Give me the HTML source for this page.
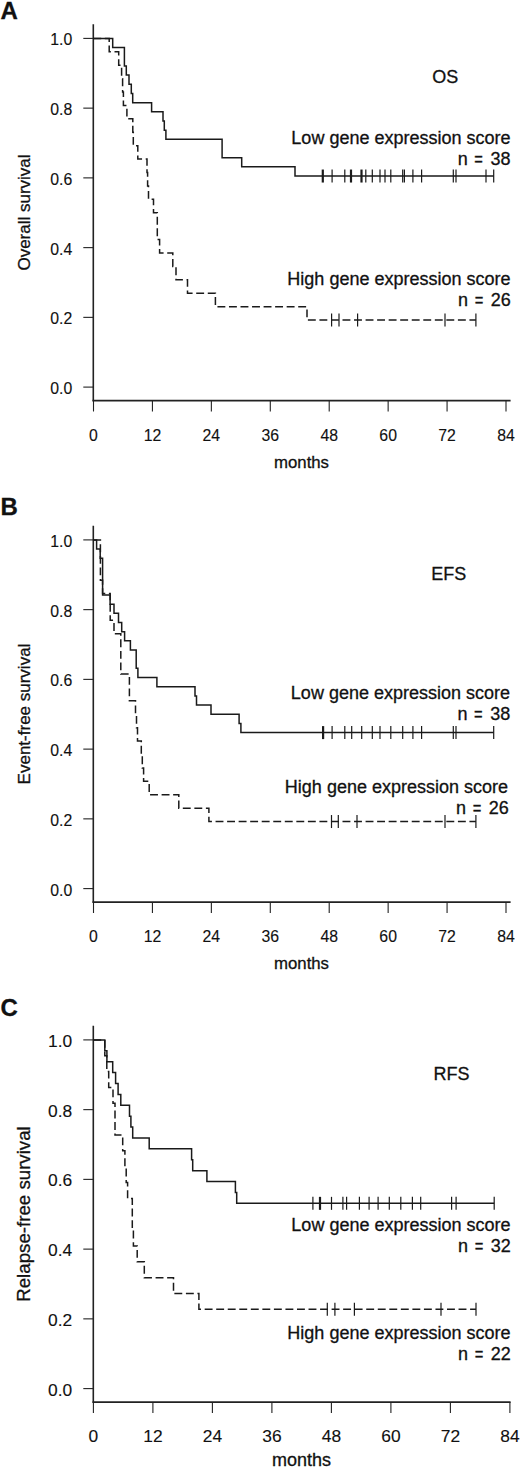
<!DOCTYPE html>
<html><head><meta charset="utf-8"><style>
html,body{margin:0;padding:0;background:#fff;}
svg{display:block;}
text{font-family:"Liberation Sans", sans-serif;fill:#111;stroke:#111;stroke-width:0.3px;}
text.t{stroke-width:0.12px;}
</style></head><body>
<svg width="520" height="1467" viewBox="0 0 520 1467">
<rect width="520" height="1467" fill="#fff"/>
<line x1="93.3" y1="24.30" x2="93.3" y2="401.30" stroke="#222" stroke-width="1.6"/>
<line x1="92.5" y1="400.60" x2="510.6" y2="400.60" stroke="#222" stroke-width="1.6"/>
<line x1="83.3" y1="387.10" x2="93.3" y2="387.10" stroke="#222" stroke-width="1.1"/>
<text class="t" x="72.3" y="394.00" text-anchor="end" font-size="15.8">0.0</text>
<line x1="83.3" y1="317.36" x2="93.3" y2="317.36" stroke="#222" stroke-width="1.1"/>
<text class="t" x="72.3" y="324.26" text-anchor="end" font-size="15.8">0.2</text>
<line x1="83.3" y1="247.62" x2="93.3" y2="247.62" stroke="#222" stroke-width="1.1"/>
<text class="t" x="72.3" y="254.52" text-anchor="end" font-size="15.8">0.4</text>
<line x1="83.3" y1="177.88" x2="93.3" y2="177.88" stroke="#222" stroke-width="1.1"/>
<text class="t" x="72.3" y="184.78" text-anchor="end" font-size="15.8">0.6</text>
<line x1="83.3" y1="108.14" x2="93.3" y2="108.14" stroke="#222" stroke-width="1.1"/>
<text class="t" x="72.3" y="115.04" text-anchor="end" font-size="15.8">0.8</text>
<line x1="83.3" y1="38.40" x2="93.3" y2="38.40" stroke="#222" stroke-width="1.1"/>
<text class="t" x="72.3" y="45.30" text-anchor="end" font-size="15.8">1.0</text>
<line x1="93.50" y1="400.60" x2="93.50" y2="411.50" stroke="#222" stroke-width="1.1"/>
<text class="t" x="93.50" y="440.60" text-anchor="middle" font-size="15.8">0</text>
<line x1="152.43" y1="400.60" x2="152.43" y2="411.50" stroke="#222" stroke-width="1.1"/>
<text class="t" x="152.43" y="440.60" text-anchor="middle" font-size="15.8">12</text>
<line x1="211.36" y1="400.60" x2="211.36" y2="411.50" stroke="#222" stroke-width="1.1"/>
<text class="t" x="211.36" y="440.60" text-anchor="middle" font-size="15.8">24</text>
<line x1="270.29" y1="400.60" x2="270.29" y2="411.50" stroke="#222" stroke-width="1.1"/>
<text class="t" x="270.29" y="440.60" text-anchor="middle" font-size="15.8">36</text>
<line x1="329.21" y1="400.60" x2="329.21" y2="411.50" stroke="#222" stroke-width="1.1"/>
<text class="t" x="329.21" y="440.60" text-anchor="middle" font-size="15.8">48</text>
<line x1="388.14" y1="400.60" x2="388.14" y2="411.50" stroke="#222" stroke-width="1.1"/>
<text class="t" x="388.14" y="440.60" text-anchor="middle" font-size="15.8">60</text>
<line x1="447.07" y1="400.60" x2="447.07" y2="411.50" stroke="#222" stroke-width="1.1"/>
<text class="t" x="447.07" y="440.60" text-anchor="middle" font-size="15.8">72</text>
<line x1="506.00" y1="400.60" x2="506.00" y2="411.50" stroke="#222" stroke-width="1.1"/>
<text class="t" x="506.00" y="440.60" text-anchor="middle" font-size="15.8">84</text>
<text x="301.5" y="467.50" text-anchor="middle" font-size="16.8">months</text>
<text transform="translate(30,212.5) rotate(-90)" x="0" y="0" text-anchor="middle" font-size="17">Overall survival</text>
<text x="0.5" y="19.00" font-size="24" font-weight="bold">A</text>
<path d="M93.3 38.40H112.70V47.58H124.40V65.93H126.30V75.11H129.00V84.28H131.30V93.46H132.70V102.63H151.60V111.81H163.00V120.99H164.30V130.16H165.90V139.34H222.10V157.69H241.70V166.87H295.00V176.04H493.70" fill="none" stroke="#1a1a1a" stroke-width="1.5"/>
<line x1="322.80" y1="169.54" x2="322.80" y2="182.54" stroke="#1a1a1a" stroke-width="2.2"/>
<line x1="332.10" y1="169.54" x2="332.10" y2="182.54" stroke="#1a1a1a" stroke-width="1.2"/>
<line x1="344.80" y1="169.54" x2="344.80" y2="182.54" stroke="#1a1a1a" stroke-width="1.2"/>
<line x1="351.00" y1="169.54" x2="351.00" y2="182.54" stroke="#1a1a1a" stroke-width="2.2"/>
<line x1="361.50" y1="169.54" x2="361.50" y2="182.54" stroke="#1a1a1a" stroke-width="2.2"/>
<line x1="365.80" y1="169.54" x2="365.80" y2="182.54" stroke="#1a1a1a" stroke-width="1.2"/>
<line x1="372.30" y1="169.54" x2="372.30" y2="182.54" stroke="#1a1a1a" stroke-width="1.2"/>
<line x1="380.00" y1="169.54" x2="380.00" y2="182.54" stroke="#1a1a1a" stroke-width="1.2"/>
<line x1="385.00" y1="169.54" x2="385.00" y2="182.54" stroke="#1a1a1a" stroke-width="1.2"/>
<line x1="390.80" y1="169.54" x2="390.80" y2="182.54" stroke="#1a1a1a" stroke-width="1.2"/>
<line x1="402.70" y1="169.54" x2="402.70" y2="182.54" stroke="#1a1a1a" stroke-width="1.2"/>
<line x1="404.40" y1="169.54" x2="404.40" y2="182.54" stroke="#1a1a1a" stroke-width="1.2"/>
<line x1="412.90" y1="169.54" x2="412.90" y2="182.54" stroke="#1a1a1a" stroke-width="1.2"/>
<line x1="421.60" y1="169.54" x2="421.60" y2="182.54" stroke="#1a1a1a" stroke-width="1.2"/>
<line x1="453.30" y1="169.54" x2="453.30" y2="182.54" stroke="#1a1a1a" stroke-width="1.2"/>
<line x1="456.00" y1="169.54" x2="456.00" y2="182.54" stroke="#1a1a1a" stroke-width="1.2"/>
<line x1="486.00" y1="169.54" x2="486.00" y2="182.54" stroke="#1a1a1a" stroke-width="1.2"/>
<line x1="493.70" y1="169.54" x2="493.70" y2="182.54" stroke="#1a1a1a" stroke-width="1.2"/>
<path d="M93.3 38.40H109.20V51.81H118.70V65.22H121.60V78.63H122.60V92.05H123.40V105.46H126.90V118.87H132.80V132.28H133.30V145.69H137.80V159.10H147.00V172.52H147.60V185.93H148.50V199.34H153.50V212.75H157.30V239.57H159.60V252.98H172.80V266.40H176.00V279.81H187.50V293.22H215.40V306.63H307.00V320.04H475.90" fill="none" stroke="#1a1a1a" stroke-width="1.5" stroke-dasharray="7.9 3.64" stroke-dashoffset="0.0"/>
<line x1="331.60" y1="313.54" x2="331.60" y2="326.54" stroke="#1a1a1a" stroke-width="1.2"/>
<line x1="339.00" y1="313.54" x2="339.00" y2="326.54" stroke="#1a1a1a" stroke-width="1.2"/>
<line x1="357.60" y1="313.54" x2="357.60" y2="326.54" stroke="#1a1a1a" stroke-width="1.2"/>
<line x1="445.00" y1="313.54" x2="445.00" y2="326.54" stroke="#1a1a1a" stroke-width="1.2"/>
<line x1="475.90" y1="313.54" x2="475.90" y2="326.54" stroke="#1a1a1a" stroke-width="1.2"/>
<text x="432.3" y="82.5" font-size="18">OS</text>
<text x="510.5" y="143.8" text-anchor="end" font-size="18">Low gene expression score</text>
<text x="457.70" y="164.8" font-size="18">n</text>
<text transform="translate(478.60,164.8) scale(0.82,1)" text-anchor="middle" font-size="18">=</text>
<text x="510.50" y="164.8" text-anchor="end" font-size="18">38</text>
<text x="510.5" y="285.2" text-anchor="end" font-size="18">High gene expression score</text>
<text x="458.10" y="305.8" font-size="18">n</text>
<text transform="translate(479.00,305.8) scale(0.82,1)" text-anchor="middle" font-size="18">=</text>
<text x="510.90" y="305.8" text-anchor="end" font-size="18">26</text>
<line x1="93.3" y1="525.80" x2="93.3" y2="902.80" stroke="#222" stroke-width="1.6"/>
<line x1="92.5" y1="902.10" x2="510.6" y2="902.10" stroke="#222" stroke-width="1.6"/>
<line x1="83.3" y1="888.60" x2="93.3" y2="888.60" stroke="#222" stroke-width="1.1"/>
<text class="t" x="72.3" y="895.50" text-anchor="end" font-size="15.8">0.0</text>
<line x1="83.3" y1="818.86" x2="93.3" y2="818.86" stroke="#222" stroke-width="1.1"/>
<text class="t" x="72.3" y="825.76" text-anchor="end" font-size="15.8">0.2</text>
<line x1="83.3" y1="749.12" x2="93.3" y2="749.12" stroke="#222" stroke-width="1.1"/>
<text class="t" x="72.3" y="756.02" text-anchor="end" font-size="15.8">0.4</text>
<line x1="83.3" y1="679.38" x2="93.3" y2="679.38" stroke="#222" stroke-width="1.1"/>
<text class="t" x="72.3" y="686.28" text-anchor="end" font-size="15.8">0.6</text>
<line x1="83.3" y1="609.64" x2="93.3" y2="609.64" stroke="#222" stroke-width="1.1"/>
<text class="t" x="72.3" y="616.54" text-anchor="end" font-size="15.8">0.8</text>
<line x1="83.3" y1="539.90" x2="93.3" y2="539.90" stroke="#222" stroke-width="1.1"/>
<text class="t" x="72.3" y="546.80" text-anchor="end" font-size="15.8">1.0</text>
<line x1="93.50" y1="902.10" x2="93.50" y2="913.00" stroke="#222" stroke-width="1.1"/>
<text class="t" x="93.50" y="942.10" text-anchor="middle" font-size="15.8">0</text>
<line x1="152.43" y1="902.10" x2="152.43" y2="913.00" stroke="#222" stroke-width="1.1"/>
<text class="t" x="152.43" y="942.10" text-anchor="middle" font-size="15.8">12</text>
<line x1="211.36" y1="902.10" x2="211.36" y2="913.00" stroke="#222" stroke-width="1.1"/>
<text class="t" x="211.36" y="942.10" text-anchor="middle" font-size="15.8">24</text>
<line x1="270.29" y1="902.10" x2="270.29" y2="913.00" stroke="#222" stroke-width="1.1"/>
<text class="t" x="270.29" y="942.10" text-anchor="middle" font-size="15.8">36</text>
<line x1="329.21" y1="902.10" x2="329.21" y2="913.00" stroke="#222" stroke-width="1.1"/>
<text class="t" x="329.21" y="942.10" text-anchor="middle" font-size="15.8">48</text>
<line x1="388.14" y1="902.10" x2="388.14" y2="913.00" stroke="#222" stroke-width="1.1"/>
<text class="t" x="388.14" y="942.10" text-anchor="middle" font-size="15.8">60</text>
<line x1="447.07" y1="902.10" x2="447.07" y2="913.00" stroke="#222" stroke-width="1.1"/>
<text class="t" x="447.07" y="942.10" text-anchor="middle" font-size="15.8">72</text>
<line x1="506.00" y1="902.10" x2="506.00" y2="913.00" stroke="#222" stroke-width="1.1"/>
<text class="t" x="506.00" y="942.10" text-anchor="middle" font-size="15.8">84</text>
<text x="301.5" y="968.80" text-anchor="middle" font-size="16.8">months</text>
<text transform="translate(30,714.0) rotate(-90)" x="0" y="0" text-anchor="middle" font-size="17">Event-free survival</text>
<text x="0.5" y="515.30" font-size="24" font-weight="bold">B</text>
<path d="M93.3 539.90H96.60V549.08H100.20V558.25H102.60V594.96H110.10V604.13H114.00V613.31H118.50V622.49H121.70V631.66H124.60V640.84H130.40V650.02H136.20V668.37H137.90V677.54H156.90V686.72H195.00V695.90H196.50V705.07H211.00V714.25H239.10V723.43H240.90V732.60H493.70" fill="none" stroke="#1a1a1a" stroke-width="1.5"/>
<line x1="323.10" y1="726.10" x2="323.10" y2="739.10" stroke="#1a1a1a" stroke-width="2.2"/>
<line x1="332.10" y1="726.10" x2="332.10" y2="739.10" stroke="#1a1a1a" stroke-width="1.2"/>
<line x1="344.80" y1="726.10" x2="344.80" y2="739.10" stroke="#1a1a1a" stroke-width="1.2"/>
<line x1="351.70" y1="726.10" x2="351.70" y2="739.10" stroke="#1a1a1a" stroke-width="1.2"/>
<line x1="361.70" y1="726.10" x2="361.70" y2="739.10" stroke="#1a1a1a" stroke-width="1.2"/>
<line x1="372.30" y1="726.10" x2="372.30" y2="739.10" stroke="#1a1a1a" stroke-width="1.2"/>
<line x1="380.00" y1="726.10" x2="380.00" y2="739.10" stroke="#1a1a1a" stroke-width="1.2"/>
<line x1="390.80" y1="726.10" x2="390.80" y2="739.10" stroke="#1a1a1a" stroke-width="1.2"/>
<line x1="402.70" y1="726.10" x2="402.70" y2="739.10" stroke="#1a1a1a" stroke-width="1.2"/>
<line x1="412.90" y1="726.10" x2="412.90" y2="739.10" stroke="#1a1a1a" stroke-width="1.2"/>
<line x1="421.60" y1="726.10" x2="421.60" y2="739.10" stroke="#1a1a1a" stroke-width="1.2"/>
<line x1="453.30" y1="726.10" x2="453.30" y2="739.10" stroke="#1a1a1a" stroke-width="1.2"/>
<line x1="456.00" y1="726.10" x2="456.00" y2="739.10" stroke="#1a1a1a" stroke-width="1.2"/>
<line x1="493.70" y1="726.10" x2="493.70" y2="739.10" stroke="#1a1a1a" stroke-width="1.2"/>
<path d="M93.3 539.90H100.40V580.13H102.60V593.55H110.20V620.37H114.00V633.78H120.80V674.02H129.40V700.84H135.50V714.25H136.50V727.66H137.50V741.07H141.30V754.48H142.30V767.90H143.60V781.31H149.20V794.72H178.80V808.13H208.90V821.54H475.90" fill="none" stroke="#1a1a1a" stroke-width="1.5" stroke-dasharray="7.9 3.64" stroke-dashoffset="0.0"/>
<line x1="331.50" y1="815.04" x2="331.50" y2="828.04" stroke="#1a1a1a" stroke-width="1.2"/>
<line x1="338.30" y1="815.04" x2="338.30" y2="828.04" stroke="#1a1a1a" stroke-width="1.2"/>
<line x1="357.00" y1="815.04" x2="357.00" y2="828.04" stroke="#1a1a1a" stroke-width="1.2"/>
<line x1="445.00" y1="815.04" x2="445.00" y2="828.04" stroke="#1a1a1a" stroke-width="1.2"/>
<line x1="475.90" y1="815.04" x2="475.90" y2="828.04" stroke="#1a1a1a" stroke-width="1.2"/>
<text x="431.2" y="580.0" font-size="18">EFS</text>
<text x="510.0" y="699.0" text-anchor="end" font-size="18">Low gene expression score</text>
<text x="457.40" y="719.9" font-size="18">n</text>
<text transform="translate(478.30,719.9) scale(0.82,1)" text-anchor="middle" font-size="18">=</text>
<text x="510.20" y="719.9" text-anchor="end" font-size="18">38</text>
<text x="508.0" y="792.5" text-anchor="end" font-size="18">High gene expression score</text>
<text x="456.10" y="813.9" font-size="18">n</text>
<text transform="translate(477.00,813.9) scale(0.82,1)" text-anchor="middle" font-size="18">=</text>
<text x="508.90" y="813.9" text-anchor="end" font-size="18">26</text>
<line x1="93.3" y1="1025.80" x2="93.3" y2="1402.80" stroke="#222" stroke-width="1.6"/>
<line x1="92.5" y1="1402.10" x2="510.6" y2="1402.10" stroke="#222" stroke-width="1.6"/>
<line x1="83.3" y1="1388.60" x2="93.3" y2="1388.60" stroke="#222" stroke-width="1.1"/>
<text class="t" x="72.3" y="1395.70" text-anchor="end" font-size="17.4">0.0</text>
<line x1="83.3" y1="1318.86" x2="93.3" y2="1318.86" stroke="#222" stroke-width="1.1"/>
<text class="t" x="72.3" y="1325.96" text-anchor="end" font-size="17.4">0.2</text>
<line x1="83.3" y1="1249.12" x2="93.3" y2="1249.12" stroke="#222" stroke-width="1.1"/>
<text class="t" x="72.3" y="1256.22" text-anchor="end" font-size="17.4">0.4</text>
<line x1="83.3" y1="1179.38" x2="93.3" y2="1179.38" stroke="#222" stroke-width="1.1"/>
<text class="t" x="72.3" y="1186.48" text-anchor="end" font-size="17.4">0.6</text>
<line x1="83.3" y1="1109.64" x2="93.3" y2="1109.64" stroke="#222" stroke-width="1.1"/>
<text class="t" x="72.3" y="1116.74" text-anchor="end" font-size="17.4">0.8</text>
<line x1="83.3" y1="1039.90" x2="93.3" y2="1039.90" stroke="#222" stroke-width="1.1"/>
<text class="t" x="72.3" y="1047.00" text-anchor="end" font-size="17.4">1.0</text>
<line x1="93.40" y1="1402.10" x2="93.40" y2="1413.00" stroke="#222" stroke-width="1.1"/>
<text class="t" x="93.40" y="1441.70" text-anchor="middle" font-size="17.4">0</text>
<line x1="152.90" y1="1402.10" x2="152.90" y2="1413.00" stroke="#222" stroke-width="1.1"/>
<text class="t" x="152.90" y="1441.70" text-anchor="middle" font-size="17.4">12</text>
<line x1="212.40" y1="1402.10" x2="212.40" y2="1413.00" stroke="#222" stroke-width="1.1"/>
<text class="t" x="212.40" y="1441.70" text-anchor="middle" font-size="17.4">24</text>
<line x1="271.90" y1="1402.10" x2="271.90" y2="1413.00" stroke="#222" stroke-width="1.1"/>
<text class="t" x="271.90" y="1441.70" text-anchor="middle" font-size="17.4">36</text>
<line x1="331.40" y1="1402.10" x2="331.40" y2="1413.00" stroke="#222" stroke-width="1.1"/>
<text class="t" x="331.40" y="1441.70" text-anchor="middle" font-size="17.4">48</text>
<line x1="390.90" y1="1402.10" x2="390.90" y2="1413.00" stroke="#222" stroke-width="1.1"/>
<text class="t" x="390.90" y="1441.70" text-anchor="middle" font-size="17.4">60</text>
<line x1="450.40" y1="1402.10" x2="450.40" y2="1413.00" stroke="#222" stroke-width="1.1"/>
<text class="t" x="450.40" y="1441.70" text-anchor="middle" font-size="17.4">72</text>
<line x1="509.90" y1="1402.10" x2="509.90" y2="1413.00" stroke="#222" stroke-width="1.1"/>
<text class="t" x="509.90" y="1441.70" text-anchor="middle" font-size="17.4">84</text>
<text x="301.5" y="1466.20" text-anchor="middle" font-size="18">months</text>
<text transform="translate(30,1214.0) rotate(-90)" x="0" y="0" text-anchor="middle" font-size="18.7">Relapse-free survival</text>
<text x="0.5" y="1016.30" font-size="24" font-weight="bold">C</text>
<path d="M93.3 1039.90H104.80V1050.80H106.90V1061.69H112.70V1072.59H115.60V1083.49H118.10V1094.38H120.80V1105.28H129.50V1116.18H130.90V1127.07H132.70V1137.97H149.20V1148.87H191.60V1159.77H192.70V1170.66H206.90V1181.56H235.40V1192.46H236.70V1203.35H494.20" fill="none" stroke="#1a1a1a" stroke-width="1.5"/>
<line x1="312.90" y1="1196.85" x2="312.90" y2="1209.85" stroke="#1a1a1a" stroke-width="1.2"/>
<line x1="320.00" y1="1196.85" x2="320.00" y2="1209.85" stroke="#1a1a1a" stroke-width="2.2"/>
<line x1="331.50" y1="1196.85" x2="331.50" y2="1209.85" stroke="#1a1a1a" stroke-width="1.2"/>
<line x1="342.90" y1="1196.85" x2="342.90" y2="1209.85" stroke="#1a1a1a" stroke-width="1.2"/>
<line x1="346.60" y1="1196.85" x2="346.60" y2="1209.85" stroke="#1a1a1a" stroke-width="1.2"/>
<line x1="359.40" y1="1196.85" x2="359.40" y2="1209.85" stroke="#1a1a1a" stroke-width="1.2"/>
<line x1="369.10" y1="1196.85" x2="369.10" y2="1209.85" stroke="#1a1a1a" stroke-width="1.2"/>
<line x1="378.10" y1="1196.85" x2="378.10" y2="1209.85" stroke="#1a1a1a" stroke-width="1.2"/>
<line x1="389.30" y1="1196.85" x2="389.30" y2="1209.85" stroke="#1a1a1a" stroke-width="1.2"/>
<line x1="400.80" y1="1196.85" x2="400.80" y2="1209.85" stroke="#1a1a1a" stroke-width="1.2"/>
<line x1="412.40" y1="1196.85" x2="412.40" y2="1209.85" stroke="#1a1a1a" stroke-width="1.2"/>
<line x1="420.70" y1="1196.85" x2="420.70" y2="1209.85" stroke="#1a1a1a" stroke-width="1.2"/>
<line x1="451.60" y1="1196.85" x2="451.60" y2="1209.85" stroke="#1a1a1a" stroke-width="1.2"/>
<line x1="456.10" y1="1196.85" x2="456.10" y2="1209.85" stroke="#1a1a1a" stroke-width="1.2"/>
<line x1="494.20" y1="1196.85" x2="494.20" y2="1209.85" stroke="#1a1a1a" stroke-width="1.2"/>
<path d="M93.3 1039.90H104.80V1055.75H106.80V1071.60H108.70V1087.45H113.00V1103.30H115.00V1135.00H122.70V1150.85H124.90V1166.70H126.20V1182.55H127.60V1198.40H132.30V1230.10H133.40V1245.95H137.20V1261.80H144.30V1277.65H173.50V1293.50H198.90V1309.35H476.00" fill="none" stroke="#1a1a1a" stroke-width="1.5" stroke-dasharray="7.9 3.64" stroke-dashoffset="0.0"/>
<line x1="327.30" y1="1302.85" x2="327.30" y2="1315.85" stroke="#1a1a1a" stroke-width="1.2"/>
<line x1="334.90" y1="1302.85" x2="334.90" y2="1315.85" stroke="#1a1a1a" stroke-width="1.2"/>
<line x1="354.40" y1="1302.85" x2="354.40" y2="1315.85" stroke="#1a1a1a" stroke-width="1.2"/>
<line x1="441.00" y1="1302.85" x2="441.00" y2="1315.85" stroke="#1a1a1a" stroke-width="1.2"/>
<line x1="476.00" y1="1302.85" x2="476.00" y2="1315.85" stroke="#1a1a1a" stroke-width="1.2"/>
<text x="433.5" y="1079.8" font-size="18">RFS</text>
<text x="510.5" y="1231.2" text-anchor="end" font-size="18">Low gene expression score</text>
<text x="458.10" y="1252.2" font-size="18">n</text>
<text transform="translate(479.00,1252.2) scale(0.82,1)" text-anchor="middle" font-size="18">=</text>
<text x="510.90" y="1252.2" text-anchor="end" font-size="18">32</text>
<text x="510.5" y="1338.5" text-anchor="end" font-size="18">High gene expression score</text>
<text x="458.10" y="1359.6" font-size="18">n</text>
<text transform="translate(479.00,1359.6) scale(0.82,1)" text-anchor="middle" font-size="18">=</text>
<text x="510.90" y="1359.6" text-anchor="end" font-size="18">22</text>
</svg>
</body></html>
